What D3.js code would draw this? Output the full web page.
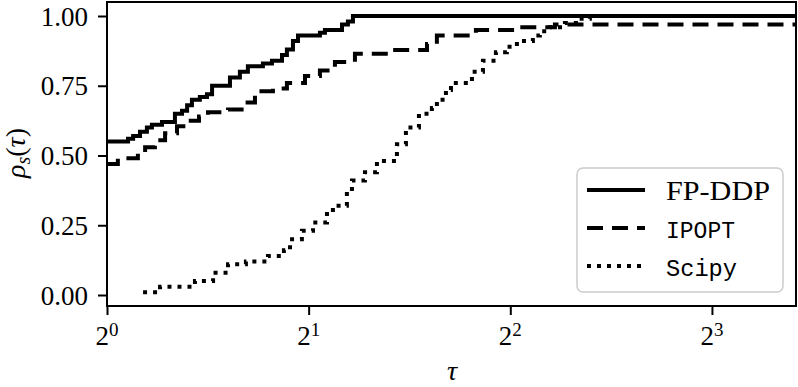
<!DOCTYPE html>
<html>
<head>
<meta charset="utf-8">
<script src="https://cdn.jsdelivr.net/npm/d3@7"></script>
<style>
  html, body { margin: 0; padding: 0; background: #fff; }
  svg { display: block; }
</style>
</head>
<body>
<svg id="chart" width="798" height="387"></svg>
<script>
// ---- data (performance profile: tau -> fraction of problems solved) ----
const tauMax = 10.68;
const seriesNames = ["FP-DDP", "IPOPT", "Scipy"];

const fpddpTau = [1.0, 1.075, 1.094, 1.120, 1.147, 1.167, 1.208, 1.263, 1.294, 1.317, 1.339, 1.376, 1.410, 1.435, 1.526, 1.579, 1.623, 1.709, 1.763, 1.825, 1.856, 1.895, 1.928, 2.079, 2.115, 2.243, 2.289, 2.329];
const fpddpRho = [0.55, 0.56, 0.57, 0.585, 0.60, 0.61, 0.62, 0.65, 0.66, 0.68, 0.70, 0.71, 0.72, 0.75, 0.78, 0.80, 0.82, 0.83, 0.84, 0.86, 0.88, 0.91, 0.93, 0.94, 0.95, 0.97, 0.98, 1.00];

const ipoptTau = [1.0, 1.038, 1.112, 1.140, 1.179, 1.221, 1.272, 1.321, 1.372, 1.415, 1.516, 1.607, 1.663, 1.769, 1.856, 1.975, 2.079, 2.189, 2.345, 2.626, 3.004, 3.108, 3.554, 4.106, 4.663];
const ipoptRho = [0.47, 0.49, 0.51, 0.53, 0.555, 0.58, 0.605, 0.625, 0.64, 0.655, 0.665, 0.69, 0.73, 0.74, 0.76, 0.785, 0.805, 0.835, 0.865, 0.878, 0.90, 0.93, 0.95, 0.96, 0.97];

const scipyTau = [1.132, 1.200, 1.353, 1.440, 1.516, 1.612, 1.739, 1.837, 1.876, 1.954, 2.030, 2.130, 2.174, 2.281, 2.321, 2.427, 2.529, 2.709, 2.794, 2.922, 3.055, 3.108, 3.206, 3.262, 3.506, 3.641, 3.807, 3.953, 4.092, 4.323, 4.428, 4.583, 4.826, 5.012, 5.258];
const scipyRho = [0.01, 0.03, 0.05, 0.08, 0.11, 0.12, 0.14, 0.16, 0.20, 0.23, 0.26, 0.29, 0.32, 0.37, 0.41, 0.44, 0.48, 0.54, 0.60, 0.65, 0.67, 0.70, 0.735, 0.76, 0.80, 0.84, 0.87, 0.89, 0.91, 0.93, 0.945, 0.96, 0.975, 0.99, 1.00];

const xTicks = [1, 2, 4, 8];
const xTickExp = ["0", "1", "2", "3"];
const yTicks = [0, 0.25, 0.5, 0.75, 1.0];

// ---- layout ----
const svg = d3.select("#chart");
const L = 107, R = 796, T = 2, B = 306;
const x = d3.scaleLog().base(2).domain([1, tauMax]).range([L, R]);
const y = d3.scaleLinear().domain([-0.0394, 1.0502]).range([B, T]);

const serif = "'Liberation Serif', 'DejaVu Serif', serif";
const mono = "'Liberation Mono', 'DejaVu Sans Mono', monospace";
const LW = 4;

function pts(tau, rho) {
  const p = tau.map((t, i) => [t, rho[i]]);
  p.push([tauMax, rho[rho.length - 1]]);
  return p;
}
const series = [
  { name: seriesNames[0], data: pts(fpddpTau, fpddpRho), dash: null, mono: false, len: 104 },
  { name: seriesNames[1], data: pts(ipoptTau, ipoptRho), dash: "16,9", mono: true, len: 69 },
  { name: seriesNames[2], data: pts(scipyTau, scipyRho), dash: "4,6", mono: true, len: 71 }
];

const line = d3.line().x(d => x(d[0])).y(d => y(d[1])).curve(d3.curveStepAfter);

svg.append("defs").append("clipPath").attr("id", "clip")
  .append("rect").attr("x", L).attr("y", T).attr("width", R - L).attr("height", B - T);

const g = svg.append("g").attr("clip-path", "url(#clip)");
series.forEach(s => {
  g.append("path").attr("d", line(s.data))
    .attr("fill", "none").attr("stroke", "#000").attr("stroke-width", LW)
    .attr("stroke-dasharray", s.dash)
    .attr("stroke-linejoin", "miter");
});

// frame
svg.append("rect").attr("x", L).attr("y", T).attr("width", R - L).attr("height", B - T)
  .attr("fill", "none").attr("stroke", "#000").attr("stroke-width", 2);

// y axis
const yAxis = d3.axisLeft(y).tickValues(yTicks).tickFormat(d3.format(".2f")).tickSize(9).tickPadding(10);
const ya = svg.append("g").attr("transform", `translate(${L},0)`).call(yAxis);
ya.select(".domain").remove();
ya.selectAll(".tick line").attr("stroke-width", 2);
ya.selectAll(".tick text").attr("font-family", serif).attr("font-size", 27).attr("fill", "#000")
  .attr("dy", "0.34em");

// x axis
const xAxis = d3.axisBottom(x).tickValues(xTicks).tickFormat(() => "").tickSize(9);
const xa = svg.append("g").attr("transform", `translate(0,${B})`).call(xAxis);
xa.select(".domain").remove();
xa.selectAll(".tick line").attr("stroke-width", 2);
xa.selectAll(".tick text").remove();
xTicks.forEach((t, i) => {
  const tx = svg.append("text").attr("x", x(t)).attr("y", 345)
    .attr("text-anchor", "middle").attr("font-family", serif).attr("font-size", 27);
  tx.append("tspan").text("2");
  tx.append("tspan").attr("dy", -9).attr("font-size", 19).text(xTickExp[i]);
});

// axis labels
svg.append("text").attr("x", 452).attr("y", 380).attr("text-anchor", "middle")
  .attr("font-family", serif).attr("font-size", 28).attr("font-style", "italic").text("τ");

const yl = svg.append("text").attr("transform", "translate(25,153) rotate(-90)")
  .attr("text-anchor", "middle").attr("font-family", serif).attr("font-size", 28);
yl.append("tspan").attr("font-style", "italic").text("ρ");
yl.append("tspan").attr("font-style", "italic").attr("font-size", 20).attr("dy", 5).text("s");
yl.append("tspan").attr("dy", -5).text("(");
yl.append("tspan").attr("font-style", "italic").text("τ");
yl.append("tspan").text(")");

// legend
const lg = svg.append("g");
lg.append("rect").attr("x", 577).attr("y", 168).attr("width", 206).attr("height", 124)
  .attr("rx", 6).attr("fill", "#fff").attr("fill-opacity", 0.8)
  .attr("stroke", "#cccccc").attr("stroke-width", 1.5);
series.forEach((s, i) => {
  const cy = 190 + i * 38;
  lg.append("line").attr("x1", 587).attr("x2", 645).attr("y1", cy).attr("y2", cy)
    .attr("stroke", "#000").attr("stroke-width", LW).attr("stroke-dasharray", s.dash);
  lg.append("text").attr("x", 666).attr("y", cy + 10)
    .attr("font-family", s.mono ? mono : serif)
    .attr("font-size", s.mono ? 24 : 28)
    .attr("textLength", s.len).attr("lengthAdjust", "spacingAndGlyphs")
    .attr("fill", "#000").text(s.name);
});
</script>
</body>
</html>
